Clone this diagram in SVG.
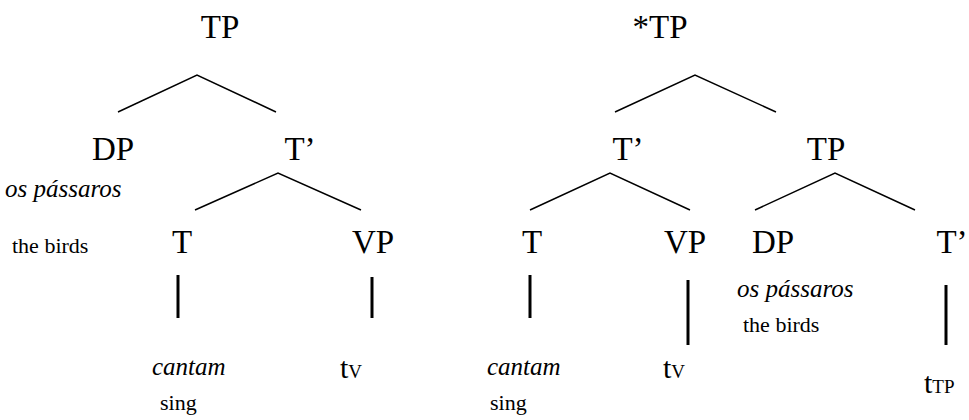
<svg xmlns="http://www.w3.org/2000/svg" width="969" height="420" viewBox="0 0 969 420">
<style>
text{font-family:"Liberation Serif","Times New Roman",serif;fill:#000}
.l{font-size:33px;text-anchor:middle}
.i{font-size:25px;font-style:italic}
.s{font-size:22px}
.e{stroke:#000;stroke-width:1.5;fill:none}
.v{stroke:#000;stroke-width:3;fill:none}
</style>
<rect width="969" height="420" fill="#fff"/>
<g id="connectors">
<path class="e" d="M118,112 L197,75 L276,112"/>
<path class="e" d="M195,210 L278,173 L361,210"/>
<path class="e" d="M615,112 L695,75 L776,112"/>
<path class="e" d="M530,210 L610,173 L690,210"/>
<path class="e" d="M755,210 L835,173 L915,210"/>
<path class="v" d="M178,275 V318"/>
<path class="v" d="M372,277 V318"/>
<path class="v" d="M530,275 V318"/>
<path class="v" d="M688,280 V345"/>
<path class="v" d="M946,285 V345"/>
</g>
<g id="tp1"><text class="l" x="220" y="38">TP</text></g>
<g id="dp1"><text class="l" x="113" y="160">DP</text><text class="i" x="5" y="197">os pássaros</text><text class="s" x="12" y="253">the birds</text></g>
<g id="tbar1"><text class="l" x="300" y="160">T’</text></g>
<g id="t1"><text class="l" x="182" y="253">T</text><text class="i" x="152" y="375">cantam</text><text class="s" x="160" y="410">sing</text></g>
<g id="vp1"><text class="l" x="373" y="253">VP</text><text x="340" y="378" style="font-size:30px">t<tspan style="font-size:19px">V</tspan></text></g>
<g id="tp2"><text class="l" x="660" y="38">*TP</text></g>
<g id="tbar2"><text class="l" x="628" y="160">T’</text></g>
<g id="tp3"><text class="l" x="826" y="160">TP</text></g>
<g id="t2"><text class="l" x="532" y="253">T</text><text class="i" x="487" y="375">cantam</text><text class="s" x="490" y="410">sing</text></g>
<g id="vp2"><text class="l" x="685" y="253">VP</text><text x="663" y="378" style="font-size:30px">t<tspan style="font-size:19px">V</tspan></text></g>
<g id="dp2"><text class="l" x="773" y="253">DP</text><text class="i" x="737" y="297">os pássaros</text><text class="s" x="743" y="332">the birds</text></g>
<g id="tbar3"><text class="l" x="952" y="253">T’</text><text x="924" y="393" style="font-size:30px">t<tspan style="font-size:19px">TP</tspan></text></g>
</svg>
